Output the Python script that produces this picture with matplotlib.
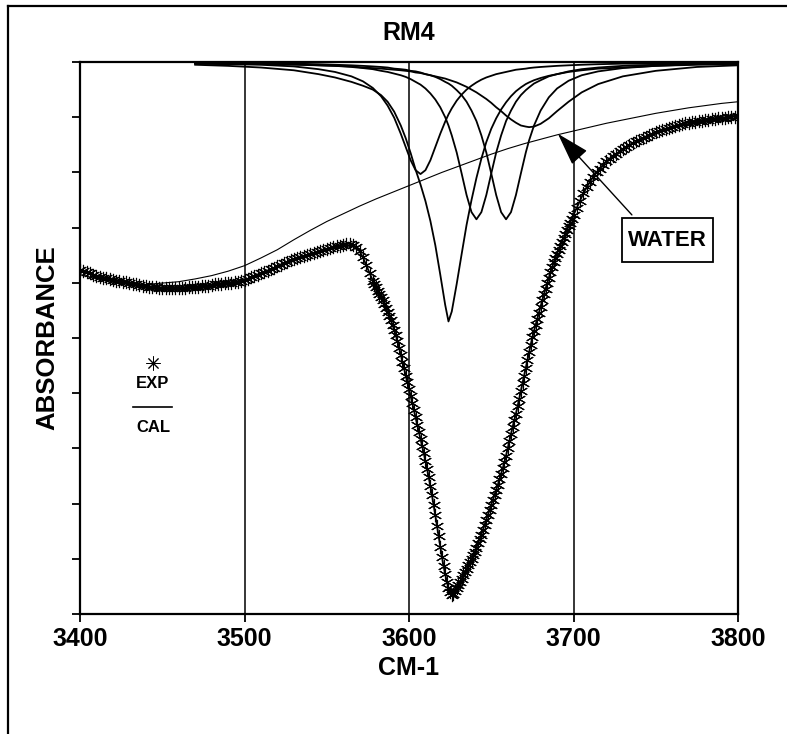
import matplotlib
matplotlib.use("Agg")
import matplotlib.pyplot as plt
from matplotlib.lines import Line2D
from matplotlib.patches import Rectangle

plt.rcParams['font.family'] = ['Liberation Sans', 'DejaVu Sans']
plt.rcParams['font.weight'] = 'bold'

# ---------------- data ----------------
# experimental spectrum: sampled every 2 cm-1 on the flat parts, every 1 cm-1 on the steep band
exp_x = list(range(3400, 3579, 2)) + list(range(3579, 3701)) + list(range(3702, 3801, 2))
exp_y = [
    # 3400 - 3578 (step 2)
    0.624, 0.621, 0.619, 0.617, 0.615, 0.613, 0.611, 0.609, 0.608, 0.606,
    0.605, 0.604, 0.603, 0.602, 0.601, 0.599, 0.598, 0.597, 0.596, 0.595,
    0.594, 0.593, 0.592, 0.592, 0.591, 0.591, 0.590, 0.590, 0.590, 0.590,
    0.590, 0.591, 0.591, 0.592, 0.592, 0.593, 0.593, 0.594, 0.595, 0.595,
    0.596, 0.597, 0.597, 0.598, 0.599, 0.599, 0.600, 0.601, 0.602, 0.603,
    0.605, 0.607, 0.610, 0.612, 0.615, 0.617, 0.620, 0.622, 0.625, 0.627,
    0.630, 0.633, 0.636, 0.638, 0.641, 0.643, 0.645, 0.647, 0.648, 0.650,
    0.652, 0.654, 0.656, 0.658, 0.660, 0.661, 0.663, 0.664, 0.666, 0.667,
    0.669, 0.670, 0.671, 0.669, 0.665, 0.657, 0.646, 0.632, 0.618, 0.604,
    # 3579 - 3700 (step 1)
    0.598, 0.592, 0.586, 0.580, 0.574, 0.568, 0.561, 0.554, 0.547, 0.540,
    0.532, 0.524, 0.515, 0.505, 0.494, 0.482, 0.470, 0.457, 0.445, 0.432,
    0.420, 0.408, 0.395, 0.382, 0.369, 0.356, 0.343, 0.330, 0.317, 0.304,
    0.291, 0.277, 0.263, 0.248, 0.232, 0.215, 0.197, 0.179, 0.160, 0.141,
    0.122, 0.104, 0.087, 0.072, 0.058, 0.047, 0.039, 0.035, 0.037, 0.042,
    0.047, 0.053, 0.058, 0.064, 0.070, 0.076, 0.082, 0.088, 0.094, 0.100,
    0.106, 0.113, 0.120, 0.128, 0.136, 0.144, 0.153, 0.162, 0.171, 0.180,
    0.189, 0.198, 0.207, 0.216, 0.225, 0.234, 0.244, 0.254, 0.264, 0.275,
    0.287, 0.300, 0.313, 0.326, 0.339, 0.351, 0.363, 0.376, 0.390, 0.404,
    0.418, 0.432, 0.446, 0.460, 0.474, 0.488, 0.501, 0.513, 0.524, 0.535,
    0.546, 0.557, 0.568, 0.579, 0.589, 0.599, 0.609, 0.619, 0.628, 0.637,
    0.645, 0.653, 0.660, 0.667, 0.674, 0.681, 0.688, 0.695, 0.702, 0.709,
    0.716, 0.723,
    # 3702 - 3800 (step 2)
    0.736, 0.749, 0.762, 0.773, 0.783, 0.792, 0.800, 0.807, 0.814, 0.820,
    0.825, 0.830, 0.834, 0.838, 0.842, 0.846, 0.850, 0.853, 0.856, 0.859,
    0.862, 0.865, 0.868, 0.870, 0.873, 0.875, 0.877, 0.879, 0.881, 0.883,
    0.884, 0.886, 0.888, 0.889, 0.890, 0.891, 0.892, 0.893, 0.894, 0.895,
    0.895, 0.896, 0.897, 0.898, 0.898, 0.899, 0.900, 0.901, 0.901, 0.902,
]
cal_y = exp_y  # calculated fit coincides with experimental trace

base_x = [3400, 3420, 3440, 3460, 3470, 3480, 3490, 3500, 3510, 3520, 3530, 3540, 3550,
          3560, 3570, 3580, 3590, 3600, 3610, 3620, 3630, 3640, 3650, 3660, 3670, 3680,
          3690, 3700, 3710, 3720, 3730, 3740, 3750, 3760, 3770, 3780, 3790, 3800]
base_y = [0.615, 0.600, 0.597, 0.602, 0.607, 0.613, 0.621, 0.631, 0.645, 0.660, 0.678,
          0.695, 0.711, 0.725, 0.739, 0.752, 0.764, 0.776, 0.788, 0.800, 0.811, 0.822,
          0.833, 0.843, 0.852, 0.860, 0.868, 0.875, 0.882, 0.889, 0.895, 0.901, 0.907,
          0.912, 0.917, 0.921, 0.925, 0.928]

comp_x = [3470, 3490, 3510, 3530, 3545, 3555, 3565, 3572, 3578, 3583,
          3587, 3591, 3595, 3598, 3601, 3604, 3607, 3610, 3613, 3616,
          3619, 3622, 3624, 3626, 3629, 3632, 3635, 3638, 3641, 3644,
          3647, 3650, 3653, 3656, 3659, 3662, 3665, 3668, 3671, 3673,
          3676, 3680, 3685, 3690, 3697, 3705, 3715, 3730, 3750, 3775, 3800]
band_a = [0.997, 0.996, 0.995, 0.992, 0.987, 0.982, 0.974, 0.965, 0.953, 0.938,
          0.921, 0.899, 0.870, 0.846, 0.822, 0.804, 0.797, 0.804, 0.822, 0.846,
          0.870, 0.892, 0.905, 0.916, 0.930, 0.941, 0.950, 0.957, 0.963, 0.968,
          0.972, 0.975, 0.978, 0.980, 0.982, 0.984, 0.986, 0.987, 0.988, 0.989,
          0.990, 0.991, 0.992, 0.993, 0.994, 0.995, 0.996, 0.997, 0.997, 0.998, 0.998]
band_b = [0.995, 0.993, 0.990, 0.985, 0.978, 0.972, 0.964, 0.957, 0.950, 0.940,
          0.928, 0.910, 0.885, 0.862, 0.835, 0.805, 0.778, 0.748, 0.712, 0.668,
          0.615, 0.560, 0.530, 0.548, 0.598, 0.652, 0.705, 0.750, 0.790, 0.825,
          0.855, 0.879, 0.898, 0.914, 0.927, 0.938, 0.947, 0.954, 0.960, 0.963,
          0.967, 0.971, 0.975, 0.978, 0.982, 0.985, 0.988, 0.990, 0.993, 0.995, 0.996]
band_c = [0.998, 0.998, 0.997, 0.996, 0.994, 0.993, 0.991, 0.989, 0.987, 0.984,
          0.982, 0.979, 0.976, 0.973, 0.969, 0.964, 0.959, 0.952, 0.943, 0.932,
          0.918, 0.900, 0.885, 0.867, 0.836, 0.798, 0.759, 0.728, 0.715, 0.728,
          0.759, 0.798, 0.836, 0.867, 0.893, 0.912, 0.928, 0.940, 0.949, 0.954,
          0.961, 0.967, 0.974, 0.978, 0.983, 0.987, 0.990, 0.993, 0.995, 0.997, 0.998]
band_d = [0.998, 0.998, 0.997, 0.997, 0.996, 0.995, 0.994, 0.993, 0.992, 0.991,
          0.990, 0.988, 0.987, 0.986, 0.984, 0.983, 0.981, 0.978, 0.976, 0.973,
          0.969, 0.964, 0.961, 0.957, 0.949, 0.940, 0.928, 0.912, 0.893, 0.867,
          0.836, 0.798, 0.759, 0.728, 0.715, 0.728, 0.759, 0.798, 0.836, 0.858,
          0.885, 0.912, 0.936, 0.952, 0.966, 0.976, 0.983, 0.989, 0.993, 0.996, 0.997]
band_e = [0.997, 0.997, 0.996, 0.995, 0.994, 0.993, 0.992, 0.990, 0.989, 0.988,
          0.987, 0.986, 0.985, 0.984, 0.983, 0.981, 0.980, 0.978, 0.976, 0.974,
          0.972, 0.970, 0.968, 0.966, 0.963, 0.959, 0.955, 0.950, 0.945, 0.939,
          0.933, 0.926, 0.918, 0.911, 0.903, 0.896, 0.890, 0.885, 0.883, 0.882,
          0.883, 0.888, 0.898, 0.911, 0.928, 0.945, 0.960, 0.974, 0.984, 0.991, 0.994]
bands = [band_a, band_b, band_c, band_d, band_e]

x_ticks = [3400, 3500, 3600, 3700, 3800]
x_tick_labels = ["3400", "3500", "3600", "3700", "3800"]
y_ticks = [0.0, 0.1, 0.2, 0.3, 0.4, 0.5, 0.6, 0.7, 0.8, 0.9, 1.0]

water_label = "WATER"
water_text_pos = (3757, 0.6775)
water_arrow_tail = (3735.5, 0.723)
water_arrow_tip = (3690.5, 0.870)

# ---------------- figure ----------------
fig = plt.figure(figsize=(7.87, 7.34), dpi=100)
ax = fig.add_axes([80 / 787, 1 - 614 / 734, 658 / 787, 552 / 734])

ax.set_xlim(3400, 3800)
ax.set_ylim(0, 1)

# vertical grid lines
for gx in x_ticks[1:-1]:
    ax.axvline(gx, color='black', lw=1.1, zorder=1)

# component bands
for b in bands:
    ax.plot(comp_x, b, color='black', lw=1.3, zorder=2)

# baseline
ax.plot(base_x, base_y, color='black', lw=0.8, zorder=2)

# experimental (asterisks) and calculated (line)
ax.plot(exp_x, exp_y, linestyle='none', marker=(6, 2, 0), markersize=9.5,
        markeredgewidth=0.8, color='black', zorder=3)
ax.plot(exp_x, cal_y, color='black', lw=1.3, zorder=4)

# axes styling
for s in ax.spines.values():
    s.set_linewidth(1.6)
ax.set_xticks(x_ticks)
ax.set_xticklabels(x_tick_labels, fontsize=18, fontweight='bold')
ax.set_yticks(y_ticks)
ax.set_yticklabels([])
ax.tick_params(axis='both', direction='out', length=6, width=1.3, pad=3)

ax.set_title("RM4", fontsize=18, fontweight='bold', pad=16)
ax.set_xlabel("CM-1", fontsize=18, fontweight='bold', labelpad=4)
ax.set_ylabel("ABSORBANCE", fontsize=18.5, fontweight='bold', labelpad=6)

# in-plot legend
ax.plot([0.111], [0.455], transform=ax.transAxes, marker=(8, 2, 0), markersize=10,
        markeredgewidth=0.7, color='black', linestyle='none', clip_on=False)
ax.text(0.111, 0.417, "EXP", transform=ax.transAxes, ha='center', va='center',
        fontsize=12, fontweight='bold')
ax.plot([0.0805, 0.140], [0.375, 0.375], transform=ax.transAxes, color='black', lw=1.2)
ax.text(0.111, 0.337, "CAL", transform=ax.transAxes, ha='center', va='center',
        fontsize=12, fontweight='bold')

# WATER annotation: boxed label plus arrow to the water band
ax.add_patch(Rectangle((0.8237, 0.6377), 0.1383, 0.0797, transform=ax.transAxes,
                       fc='white', ec='black', lw=1.3, zorder=6))
ax.text(water_text_pos[0], water_text_pos[1], water_label, fontsize=16, fontweight='bold',
        ha='center', va='center', zorder=7)
ax.annotate("", xy=water_arrow_tip, xytext=water_arrow_tail,
            arrowprops=dict(arrowstyle='-|>,head_length=1.3,head_width=0.4',
                            fc='black', ec='black', lw=1.0, shrinkA=0, shrinkB=0,
                            mutation_scale=16),
            zorder=6)

# page border (left and top)
fig.add_artist(Line2D([8 / 787, 8 / 787], [0, 1 - 6 / 734], transform=fig.transFigure,
                      color='black', lw=1.6))
fig.add_artist(Line2D([8 / 787, 1], [1 - 6 / 734, 1 - 6 / 734], transform=fig.transFigure,
                      color='black', lw=1.6))

fig.savefig("out.png", dpi=100)
